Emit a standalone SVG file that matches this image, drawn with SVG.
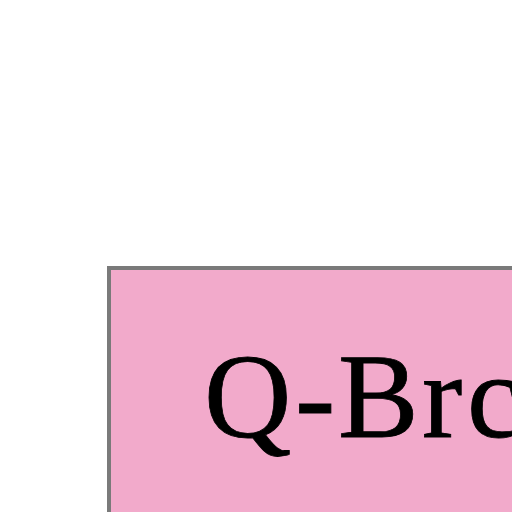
<svg xmlns="http://www.w3.org/2000/svg" width="512" height="512" viewBox="0 0 512 512">
<style>
.box{fill:#F2AACB;stroke:#7a7a7a;stroke-width:4}
.lbl{font-family:"Liberation Serif","Times New Roman",serif;font-size:121px;fill:#000;stroke:#000;stroke-width:0.8}
</style>
<rect width="512" height="512" fill="#fff"/>
<g id="node-qbroker">
<rect class="box" x="109" y="268" width="460" height="300"/>
<text class="lbl" x="204 295 338 422 467" y="437">Q-Brc</text>
</g>
<g id="connectors"></g>
</svg>
